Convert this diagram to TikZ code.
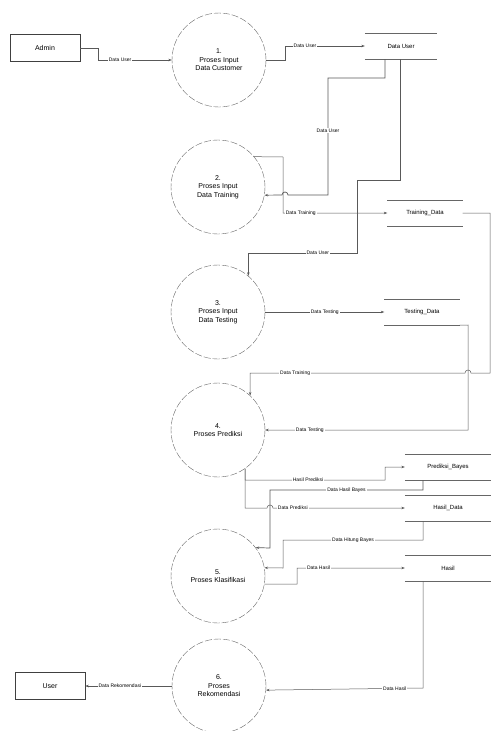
\documentclass[tikz,border=0pt]{standalone}
\usepackage{fontspec}
\setmainfont{Liberation Sans}
\usetikzlibrary{arrows.meta}

\tikzset{
    proc/.style={circle, draw=black!60, dash pattern=on 7pt off 2pt, minimum size=94pt, inner sep=0pt, align=center, font=\fontsize{7}{8.5}\selectfont},
    ent/.style={rectangle, draw=black!75, line width=0.6pt, minimum width=70pt, minimum height=27pt, font=\fontsize{7}{8.5}\selectfont},
    store/.style={minimum height=26pt, inner sep=0pt, font=\fontsize{6}{7}\selectfont,
        append after command={(\tikzlastnode.north west) edge[draw=black!60] (\tikzlastnode.north east)
                              (\tikzlastnode.south west) edge[draw=black!60] (\tikzlastnode.south east)}},
    flow/.style={draw=black!65, line width=0.5pt, -{Stealth[length=3.5pt,width=2.5pt]}},
    lbl/.style={fill=white, inner sep=1pt, font=\fontsize{5}{6}\selectfont},
}

\begin{document}
\begin{tikzpicture}[x=1pt, y=-1pt]
    \useasboundingbox (0,0) rectangle (491,731);

    % external entities
    \node[ent] (admin) at (45,48) {Admin};
    \node[ent] (user) at (50,686) {User};

    % processes
    \node[proc] (p1) at (219,60) {1.\\Proses Input\\Data Customer};
    \node[proc] (p2) at (218,187) {2.\\Proses Input\\Data Training};
    \node[proc] (p3) at (218,312) {3.\\Proses Input\\Data Testing};
    \node[proc] (p4) at (218,430) {4.\\Proses Prediksi};
    \node[proc] (p5) at (218,576) {5.\\Proses Klasifikasi};
    \node[proc] (p6) at (219,686) {6.\\Proses\\Rekomendasi};

    % data stores
    \node[store, minimum width=72pt] (s1) at (401,46) {Data User};
    \node[store, minimum width=75pt] (s2) at (425,213) {Training\_Data};
    \node[store, minimum width=75pt] (s3) at (422,312) {Testing\_Data};
    \node[store, minimum width=86pt] (s4) at (448,467) {Prediksi\_Bayes};
    \node[store, minimum width=86pt] (s5) at (448,508) {Hasil\_Data};
    \node[store, minimum width=86pt] (s6) at (448,568) {Hasil};

    % flows
    \draw[flow] (admin.east) -- (98,48) -- (98,60) -- (p1.west) node[lbl, pos=0.3] {Data User};
    \draw[flow] (p1.east) -- (285,60) -- (285,46) -- (s1.west) node[lbl, pos=0.25] {Data User};

    \draw[flow, line width=0.7pt] ([xshift=-16pt]s1.south) -- (385,78) -- (328,78) -- (328,195) node[lbl, pos=0.45] {Data User}
        -- (288,195) arc[start angle=0, end angle=-180, radius=3] -- (p2.-10);
    \draw[flow] (p2.40) -- (283,157) -- (283,213) -- (s2.west) node[lbl, pos=0.17] {Data Training};

    \draw[flow, line width=0.7pt] ([xshift=-1pt]s1.south) -- (400,180) -- (357,180) -- (357,253) -| (p3.50) node[lbl, pos=0.18] {Data User};
    \draw[flow] (p3.east) -- (s3.west) node[lbl, midway] {Data Testing};

    \draw[flow] (s3.south east) -- (468,325) -- (468,430) -- (p4.east) node[lbl, pos=0.78] {Data Testing};
    \draw[flow] (s2.east) -- (490,213) -- (490,373) -- (471,373) arc[start angle=0, end angle=-180, radius=3]
        -- (250,373) node[lbl, pos=0.79] {Data Training} -- (p4.47);

    \draw[flow] (p4.-55) -- (245,480) -- (385,480) node[lbl, pos=0.45] {Hasil Prediksi} -- (385,467) -- (s4.west);
    \draw[flow] (p4.-55) -- (245,508) -- (267,508) arc[start angle=180, end angle=360, radius=3]
        -- (s5.west) node[lbl, pos=0.15] {Data Prediksi};

    \draw[flow, line width=0.7pt] ([xshift=-25pt]s4.south) -- (423,490) -- (270,490) node[lbl, midway] {Data Hasil Bayes} -- (270,548) -- (p5.37);
    \draw[flow] ([xshift=-25pt]s5.south) -- (423,540) -- (283,540) node[lbl, midway] {Data Hitung Bayes} -- (283,568) -- (p5.10);
    \draw[flow] (p5.-10) -- (297,584) -- (297,568) -- (s6.west) node[lbl, pos=0.2] {Data Hasil};

    \draw[flow] ([xshift=-25pt]s6.south) -- (423,688) -- (p6.-5) node[lbl, pos=0.18] {Data Hasil};
    \draw[flow] (p6.west) -- (user.east) node[lbl, pos=0.6] {Data Rekomendasi};
\end{tikzpicture}
\end{document}
